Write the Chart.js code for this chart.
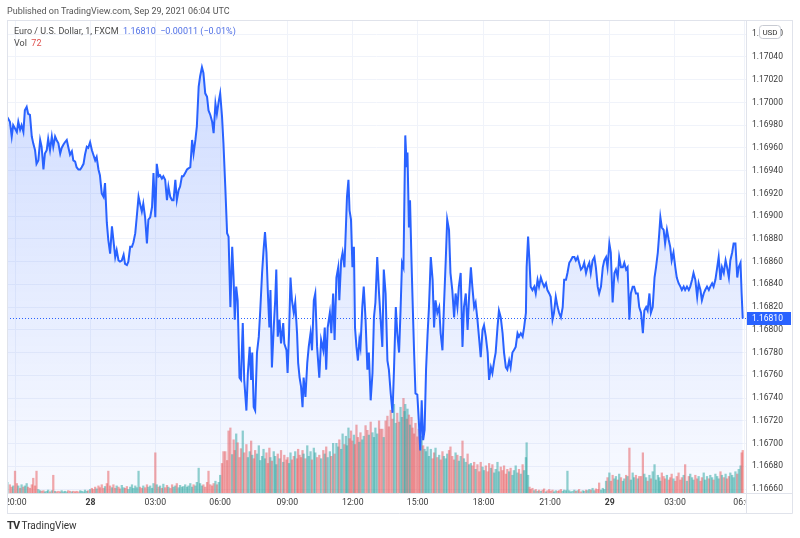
<!DOCTYPE html>
<html>
<head>
<meta charset="utf-8">
<script src="https://cdn.jsdelivr.net/npm/chart.js@4.4.1/dist/chart.umd.min.js"></script>
<style>
  html, body { margin: 0; padding: 0; background: #fff; }
  #wrap { position: relative; width: 800px; height: 538px; overflow: hidden; }
  canvas { position: absolute; left: 0; top: 0; }
  .txt { position: absolute; font-family: Roboto, 'Noto Sans', sans-serif; white-space: nowrap; }
</style>
</head>
<body>
<div id="wrap">
  <canvas id="eurusd" width="800" height="538"></canvas>
  <div class="txt" style="left:7px;top:6px;font-size:9px;color:#555;">Published on TradingView.com, Sep 29, 2021 06:04 UTC</div>
  <div class="txt" style="left:14px;top:26px;font-size:9px;color:#4a4a4a;">Euro / U.S. Dollar, 1, FXCM&nbsp;&nbsp;<span style="color:#4f6fe6;">1.16810&nbsp;&nbsp;&minus;0.00011 (&minus;0.01%)</span></div>
  <div class="txt" style="left:14px;top:38px;font-size:9px;color:#4a4a4a;">Vol&nbsp;&nbsp;<span style="color:#e0524f;">72</span></div>
  <div class="txt" style="left:7px;top:519px;font-size:10px;color:#333;"><b style="font-size:11px;letter-spacing:-1px;">TV</b>&nbsp;TradingView</div>
</div>
<script>
// bar position (1-minute bars, 0 = first bar of Sep 28)
const barIndex = [
  -227,-220,-215,-211,-206,-201,-197,-192,-188,-183,
  -179,-174,-170,-165,-160,-156,-151,-147,-142,-137,
  -133,-128,-124,-119,-115,-110,-105,-101,-96,-92,
  -87,-82,-78,-73,-69,-64,-60,-55,-50,-46,
  -41,-37,-32,-27,-23,-18,-14,-9,-5,0,
  5,9,14,18,23,27,32,37,41,46,
  50,55,60,64,69,73,78,82,87,92,
  96,101,105,110,115,119,124,128,133,137,
  142,146,151,156,160,165,170,174,179,183,
  188,192,197,201,206,211,215,220,225,229,
  234,238,243,247,252,256,261,266,270,275,
  280,284,289,293,298,302,307,311,316,321,
  325,330,335,339,344,348,353,357,362,366,
  371,376,380,385,390,394,397,401,405,410,
  414,419,423,429,433,438,442,445,449,453,
  458,463,467,472,476,480,484,488,492,495,
  499,504,508,511,515,520,524,530,533,539,
  542,546,550,554,559,563,568,571,575,579,
  583,586,591,596,600,605,609,614,618,623,
  629,634,640,644,648,652,658,662,667,671,
  676,681,684,689,693,698,702,705,709,712,
  716,720,724,727,731,735,739,742,747,751,
  756,761,765,770,775,779,783,788,793,797,
  802,806,811,816,820,825,830,834,839,843,
  848,852,856,860,863,865,869,871,875,878,
  882,885,889,893,898,902,906,910,914,918,
  922,926,930,935,940,944,948,953,958,962,
  967,971,976,980,985,989,994,999,1003,1008,
  1012,1017,1022,1026,1031,1036,1040,1045,1049,1054,
  1058,1063,1068,1072,1077,1081,1086,1091,1095,1100,
  1104,1109,1113,1118,1122,1127,1132,1136,1141,1145,
  1150,1154,1159,1163,1168,1173,1177,1182,1187,1191,
  1196,1198,1202,1206,1209,1214,1219,1223,1228,1232,
  1237,1242,1246,1251,1255,1260,1264,1269,1273,1278,
  1283,1287,1292,1297,1301,1306,1310,1315,1319,1324,
  1329,1333,1338,1342,1347,1352,1356,1361,1365,1370,
  1374,1379,1384,1388,1393,1397,1402,1407,1411,1416,
  1420,1425,1429,1434,1439,1443,1448,1452,1457,1462,
  1466,1471,1475,1480,1484,1489,1493,1498,1503,1507,
  1512,1517,1521,1526,1530,1535,1539,1544,1549,1553,
  1558,1562,1565,1569,1574,1578,1583,1588,1592,1596,
  1601,1606,1610,1615,1620,1624,1629,1633,1638,1643,
  1647,1652,1656,1661,1666,1670,1675,1679,1684,1688,
  1693,1698,1702,1707,1711,1716,1721,1725,1730,1734,
  1739,1744,1748,1753,1757,1762,1766,1771,1776,1780,
  1785,1788,1791
];

// EURUSD close
const close = [
  1.16987,1.16983,1.16970,1.16980,1.16977,1.16974,1.16983,1.16976,1.16980,1.16974,
  1.16993,1.16996,1.16990,1.16989,1.16970,1.16964,1.16958,1.16946,1.16949,1.16967,
  1.16961,1.16941,1.16955,1.16958,1.16968,1.16958,1.16970,1.16961,1.16970,1.16967,
  1.16964,1.16955,1.16960,1.16963,1.16965,1.16967,1.16961,1.16954,1.16957,1.16949,
  1.16948,1.16943,1.16941,1.16941,1.16943,1.16946,1.16954,1.16961,1.16960,1.16965,
  1.16958,1.16954,1.16949,1.16952,1.16941,1.16936,1.16920,1.16917,1.16929,1.16894,
  1.16879,1.16867,1.16891,1.16879,1.16864,1.16870,1.16861,1.16860,1.16861,1.16866,
  1.16858,1.16857,1.16860,1.16873,1.16873,1.16877,1.16885,1.16899,1.16917,1.16911,
  1.16904,1.16911,1.16899,1.16876,1.16897,1.16899,1.16908,1.16938,1.16899,1.16946,
  1.16935,1.16936,1.16933,1.16935,1.16932,1.16914,1.16926,1.16917,1.16914,1.16914,
  1.16932,1.16914,1.16923,1.16926,1.16935,1.16935,1.16938,1.16941,1.16942,1.16943,
  1.16967,1.16955,1.16967,1.16979,1.17014,1.17023,1.17031,1.17026,1.17008,1.17005,
  1.16993,1.16989,1.16983,1.16973,1.16999,1.16990,1.17001,1.17008,1.16988,1.16964,
  1.16926,1.16885,1.16882,1.16820,1.16873,1.16844,1.16809,1.16838,1.16826,1.16758,
  1.16756,1.16806,1.16756,1.16729,1.16762,1.16785,1.16756,1.16780,1.16732,1.16729,
  1.16780,1.16794,1.16817,1.16850,1.16870,1.16886,1.16868,1.16832,1.16802,1.16835,
  1.16767,1.16802,1.16826,1.16853,1.16794,1.16809,1.16788,1.16806,1.16788,1.16782,
  1.16762,1.16797,1.16846,1.16826,1.16815,1.16824,1.16797,1.16771,1.16758,1.16750,
  1.16732,1.16758,1.16741,1.16771,1.16785,1.16797,1.16782,1.16826,1.16832,1.16785,
  1.16758,1.16791,1.16782,1.16802,1.16765,1.16802,1.16815,1.16797,1.16832,1.16791,
  1.16846,1.16855,1.16826,1.16861,1.16868,1.16855,1.16890,1.16917,1.16932,1.16905,
  1.16897,1.16855,1.16873,1.16802,1.16785,1.16773,1.16791,1.16785,1.16820,1.16838,
  1.16809,1.16765,1.16780,1.16738,1.16762,1.16811,1.16824,1.16864,1.16832,1.16811,
  1.16785,1.16853,1.16832,1.16773,1.16765,1.16744,1.16727,1.16765,1.16820,1.16797,
  1.16780,1.16817,1.16859,1.16855,1.16926,1.16971,1.16943,1.16956,1.16890,1.16914,
  1.16861,1.16826,1.16782,1.16744,1.16743,1.16721,1.16694,1.16738,1.16703,1.16712,
  1.16765,1.16795,1.16820,1.16864,1.16844,1.16802,1.16826,1.16815,1.16820,1.16797,
  1.16782,1.16820,1.16861,1.16897,1.16888,1.16850,1.16835,1.16811,1.16832,1.16820,
  1.16838,1.16850,1.16785,1.16820,1.16832,1.16800,1.16829,1.16855,1.16838,1.16820,
  1.16824,1.16809,1.16791,1.16776,1.16800,1.16804,1.16794,1.16780,1.16756,1.16767,
  1.16762,1.16773,1.16780,1.16802,1.16817,1.16811,1.16797,1.16780,1.16767,1.16765,
  1.16773,1.16767,1.16780,1.16782,1.16785,1.16797,1.16794,1.16797,1.16794,1.16802,
  1.16815,1.16855,1.16882,1.16859,1.16838,1.16835,1.16838,1.16832,1.16844,1.16838,
  1.16846,1.16841,1.16838,1.16841,1.16835,1.16832,1.16829,1.16809,1.16815,1.16829,
  1.16820,1.16815,1.16811,1.16820,1.16844,1.16844,1.16850,1.16859,1.16861,1.16864,
  1.16864,1.16861,1.16864,1.16859,1.16853,1.16855,1.16859,1.16850,1.16855,1.16859,
  1.16850,1.16861,1.16864,1.16855,1.16838,1.16832,1.16838,1.16855,1.16861,1.16864,
  1.16855,1.16876,1.16868,1.16824,1.16850,1.16853,1.16846,1.16864,1.16855,1.16855,
  1.16859,1.16853,1.16855,1.16809,1.16832,1.16838,1.16838,1.16832,1.16832,1.16820,
  1.16815,1.16797,1.16817,1.16820,1.16817,1.16832,1.16815,1.16820,1.16846,1.16855,
  1.16868,1.16885,1.16899,1.16890,1.16888,1.16876,1.16888,1.16879,1.16873,1.16861,
  1.16868,1.16855,1.16846,1.16841,1.16838,1.16835,1.16838,1.16835,1.16838,1.16835,
  1.16838,1.16844,1.16850,1.16844,1.16829,1.16841,1.16835,1.16826,1.16832,1.16835,
  1.16838,1.16835,1.16838,1.16841,1.16838,1.16844,1.16855,1.16864,1.16844,1.16855,
  1.16850,1.16861,1.16855,1.16846,1.16861,1.16868,1.16876,1.16876,1.16846,1.16855,
  1.16859,1.16832,1.16810
];

// tick volume
const volume = [
  18,14,10,12,37,16,12,8,14,10,
  12,16,10,8,14,25,12,37,6,4,
  3,4,2,3,5,2,4,30,3,2,
  3,2,4,2,3,2,4,3,2,3,
  2,3,2,4,3,2,5,3,4,6,
  8,6,10,7,12,9,14,8,11,16,
  37,12,9,14,8,12,10,7,13,9,
  8,11,6,10,14,8,12,9,37,10,
  8,12,9,14,10,12,8,16,68,14,
  10,12,8,15,9,13,10,8,14,10,
  12,16,9,13,10,11,14,10,12,16,
  10,14,12,18,42,16,12,14,10,18,
  37,14,12,16,20,14,18,30,50,70,
  70,55,105,110,65,90,72,100,85,60,
  75,105,68,82,60,70,88,64,58,72,
  66,80,55,62,74,58,68,50,76,60,
  54,70,62,48,66,58,72,52,64,56,
  60,50,68,56,62,70,58,74,64,60,
  72,66,58,80,62,70,56,76,68,60,
  64,58,72,66,78,60,70,62,84,66,
  84,78,90,74,100,82,96,80,110,92,
  105,88,98,82,115,94,86,102,90,96,
  114,106,98,120,102,94,110,100,122,108,
  108,94,122,130,112,140,125,150,118,135,
  120,145,128,160,138,150,125,142,132,115,
  128,110,100,118,95,108,88,96,80,74,
  70,78,62,74,58,68,76,60,64,56,
  70,62,58,66,72,78,62,56,68,64,
  54,62,88,58,52,66,48,50,46,52,
  40,48,36,52,44,38,46,36,50,42,
  48,34,40,52,36,44,38,46,32,40,
  36,42,30,38,46,34,40,32,48,38,
  60,85,30,10,6,8,4,6,3,5,
  3,5,7,2,4,6,3,5,2,4,
  3,4,6,3,5,4,37,4,2,3,
  5,3,4,6,2,4,3,5,4,6,
  5,8,4,7,6,17,5,8,6,20,
  26,34,20,30,24,28,22,32,26,20,
  24,30,28,76,22,34,26,30,24,28,
  28,68,32,26,20,30,24,36,48,22,
  30,26,20,34,28,24,30,22,26,32,
  24,20,28,34,22,26,30,48,20,28,
  32,26,22,30,24,28,20,26,34,22,
  28,24,30,26,22,32,28,24,36,30,
  26,32,24,28,34,30,26,36,32,40,
  46,68,72
];

// time axis labels and where they sit (bar positions)
const timeTicks = [-204, 1, 179, 357, 541, 721, 899, 1080, 1262, 1426, 1605, 1795];
const timeLabels = ['20:00', '28', '03:00', '06:00', '09:00', '12:00', '15:00', '18:00', '21:00', '29', '03:00', '06:00'];
const dayLabels = ['28', '29'];

// price axis labels
const priceTicks = [1.1666, 1.1668, 1.1670, 1.1672, 1.1674, 1.1676, 1.1678, 1.1680, 1.1682, 1.1684,
  1.1686, 1.1688, 1.1690, 1.1692, 1.1694, 1.1696, 1.1698, 1.1700, 1.1702, 1.1704, 1.1706];

const lastPrice = 1.16810;
const FONT = 'Roboto, "Noto Sans", sans-serif';
const LINE_BLUE = '#2962ff';

// volume bars coloured by bar direction
const volColors = close.map((c, i) => (i === 0 || c >= close[i - 1]) ? 'rgba(38, 166, 154, 0.5)' : 'rgba(239, 83, 80, 0.5)');

const tvOverlay = {
    id: 'tvOverlay',
    beforeDatasetsDraw(chart) {
        const ctx = chart.ctx;
        const a = chart.chartArea;
        const y = Math.round(chart.scales.y.getPixelForValue(lastPrice)) + 0.5;
        ctx.save();
        ctx.strokeStyle = LINE_BLUE;
        ctx.lineWidth = 1;
        ctx.setLineDash([1, 2]);
        ctx.beginPath();
        ctx.moveTo(a.left, y);
        ctx.lineTo(a.right, y);
        ctx.stroke();
        ctx.restore();
    },
    afterDraw(chart) {
        const ctx = chart.ctx;
        const a = chart.chartArea;
        const frameRight = 792, frameBottom = 513;
        ctx.save();
        // clip time labels to the pane
        ctx.fillStyle = '#fff';
        ctx.fillRect(0, a.bottom + 1, a.left, 19);
        ctx.fillRect(a.right + 1, a.bottom + 1, 60, 19);

        // frame
        ctx.strokeStyle = '#e0e3eb';
        ctx.lineWidth = 1;
        ctx.beginPath();
        ctx.moveTo(a.left + 0.5, a.top + 0.5); ctx.lineTo(frameRight + 0.5, a.top + 0.5);
        ctx.moveTo(a.left + 0.5, a.top); ctx.lineTo(a.left + 0.5, frameBottom + 0.5);
        ctx.moveTo(a.left, frameBottom + 0.5); ctx.lineTo(frameRight + 0.5, frameBottom + 0.5);
        ctx.moveTo(frameRight + 0.5, a.top); ctx.lineTo(frameRight + 0.5, frameBottom + 0.5);
        ctx.moveTo(a.right + 0.5, a.top); ctx.lineTo(a.right + 0.5, frameBottom + 0.5);
        ctx.moveTo(a.left, a.bottom + 0.5); ctx.lineTo(frameRight, a.bottom + 0.5);
        ctx.stroke();

        // last price label
        const y = Math.round(chart.scales.y.getPixelForValue(lastPrice));
        ctx.fillStyle = LINE_BLUE;
        ctx.fillRect(a.right + 1, y - 6, frameRight - a.right - 2, 13);
        ctx.fillStyle = '#fff';
        ctx.font = '8.5px ' + FONT;
        ctx.textBaseline = 'middle';
        ctx.textAlign = 'left';
        ctx.fillText(lastPrice.toFixed(5), a.right + 6, y + 0.5);

        // currency badge
        const bx = 759, by = 25, bw = 21, bh = 13;
        ctx.beginPath();
        ctx.roundRect(bx + 0.5, by + 0.5, bw, bh, 3);
        ctx.fillStyle = '#fff';
        ctx.fill();
        ctx.strokeStyle = '#c8cbd3';
        ctx.stroke();
        ctx.fillStyle = '#333';
        ctx.font = '8px ' + FONT;
        ctx.textAlign = 'center';
        ctx.fillText('USD', bx + bw / 2 + 0.5, by + bh / 2 + 1);
        ctx.restore();
    }
};

const ctx = document.getElementById('eurusd').getContext('2d');
const chart = new Chart(ctx, {
    data: {
        datasets: [
            {
                type: 'line',
                label: 'EURUSD',
                data: barIndex.map((b, i) => ({ x: b, y: close[i] })),
                yAxisID: 'y',
                borderColor: LINE_BLUE,
                borderWidth: 2,
                pointRadius: 0,
                tension: 0,
                fill: 'start',
                backgroundColor: (c) => {
                    const area = c.chart.chartArea;
                    if (!area) return 'rgba(41, 98, 255, 0.12)';
                    const g = c.chart.ctx.createLinearGradient(0, area.top, 0, area.bottom);
                    g.addColorStop(0, 'rgba(41, 98, 255, 0.24)');
                    g.addColorStop(1, 'rgba(41, 98, 255, 0.03)');
                    return g;
                },
                order: 0
            },
            {
                type: 'bar',
                label: 'Vol',
                data: barIndex.map((b, i) => ({ x: b, y: volume[i] })),
                yAxisID: 'yVol',
                backgroundColor: volColors,
                borderWidth: 0,
                barThickness: 1.6,
                order: 1
            }
        ]
    },
    options: {
        responsive: false,
        animation: false,
        layout: { padding: { left: 7, top: 20, right: 8, bottom: 25 } },
        plugins: { legend: { display: false }, tooltip: { enabled: false } },
        scales: {
            x: {
                type: 'linear',
                offset: false,
                min: -228,
                max: 1800,
                grid: { color: '#f0f3fa', drawTicks: false, offset: false },
                border: { display: false },
                afterBuildTicks: (s) => { s.ticks = timeTicks.map(v => ({ value: v })); },
                afterFit: (s) => { s.height = 20; s.paddingLeft = 0; s.paddingRight = 0; },
                ticks: {
                    autoSkip: false,
                    maxRotation: 0,
                    padding: 5,
                    color: '#3a3a3a',
                    font: (c) => ({ family: FONT, size: 8.7, weight: dayLabels.includes(timeLabels[c.index]) ? 'bold' : 'normal' }),
                    callback: (v, i) => timeLabels[i]
                }
            },
            y: {
                position: 'right',
                min: 1.166565,
                max: 1.170725,
                grid: { color: '#f0f3fa', drawTicks: false },
                border: { display: false },
                afterBuildTicks: (s) => { s.ticks = priceTicks.map(v => ({ value: v })); },
                afterFit: (s) => { s.width = 46; s.paddingTop = 0; s.paddingBottom = 0; },
                ticks: {
                    padding: 6,
                    color: '#3a3a3a',
                    font: { family: FONT, size: 8.5 },
                    callback: (v) => Number(v).toFixed(5)
                }
            },
            yVol: {
                display: false,
                min: 0,
                max: 800
            }
        }
    },
    plugins: [tvOverlay]
});
</script>
</body>
</html>
